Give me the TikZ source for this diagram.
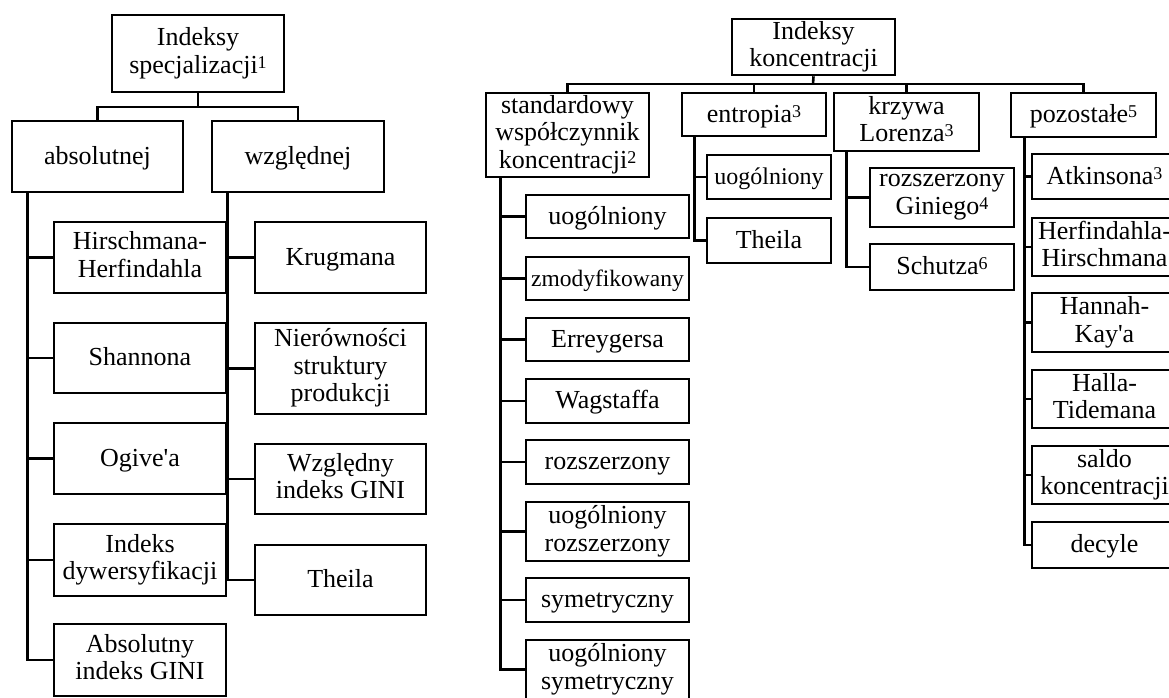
\documentclass[tikz,border=0pt]{standalone}
\usepackage{fontspec}
\setmainfont{Liberation Serif}
\usetikzlibrary{calc}

% small raised reference numbers
\newcommand\supnum[1]{\raisebox{5pt}{\fontsize{18}{18}\selectfont #1}}
% invisible struts that fix the ascent of the first line and the depth of the last
\newcommand\topstrut{\vrule height 21.25pt depth 0pt width 0pt}
\newcommand\botstrut{\vrule height 0pt depth 6.25pt width 0pt}
% box given by name, left, top, right, bottom, text
\newcommand\tbox[7][]{%
  \node[box,#1,minimum width={#5pt-#3pt},minimum height={#6pt-#4pt}] (#2)
    at ({(#3+#5)/2},{(#4+#6)/2}) {#7};}
\newcommand\apos{\textquotesingle}

\begin{document}
\begin{tikzpicture}[x=1pt,y=-1pt,
  box/.style={draw,line width=2.6pt,inner sep=0pt,align=center,
              font=\fontsize{26}{27.5}\selectfont,
              execute at begin node=\topstrut,
              execute at end node=\botstrut},
  smaller/.style={font=\fontsize{23.5}{27.5}\selectfont},
  small/.style={font=\fontsize{24}{27.5}\selectfont},
  link/.style={line width=2.6pt}]
\useasboundingbox (0,0) rectangle (1169,697);
\clip (0,0) rectangle (1169,697);

% ---------- specialisation indices ----------
\tbox{rootL}{112}{15}{284}{92}{Indeksy\\specjalizacji\supnum{1}}
\tbox{absn}{12}{121}{183}{192}{absolutnej}
\tbox{wzgl}{212}{121}{384}{192}{względnej}

\tbox{a1}{54}{222}{226}{293}{Hirschmana-\\Herfindahla}
\tbox{a2}{54}{323}{226}{393}{Shannona}
\tbox{a3}{54}{423}{226}{494}{Ogive\apos a}
\tbox{a4}{54}{524}{226}{596}{Indeks\\dywersyfikacji}
\tbox{a5}{54}{624}{226}{696}{Absolutny\\indeks GINI}

\tbox{w1}{255}{222}{426}{293}{Krugmana}
\tbox{w2}{255}{323}{426}{414}{Nierówności\\struktury\\produkcji}
\tbox{w3}{255}{444}{426}{514}{Względny\\indeks GINI}
\tbox{w4}{255}{545}{426}{615}{Theila}

\coordinate (barL) at (198,107);
\draw[link] (rootL.south) -- (barL);
\draw[link] (absn.north) |- (barL);
\draw[link] (wzgl.north) |- (barL);
\foreach \c in {a1,a2,a3,a4,a5}
  \draw[link] ([xshift=17pt]absn.south west) |- (\c.west);
\foreach \c in {w1,w2,w3,w4}
  \draw[link] ([xshift=17pt]wzgl.south west) |- (\c.west);

% ---------- concentration indices ----------
\tbox{rootR}{732}{19}{895}{75}{Indeksy\\koncentracji}
\tbox{s0}{486}{93}{649}{177}{standardowy\\współczynnik\\koncentracji\supnum{2}}
\tbox{e0}{682}{93}{826}{136}{entropia\supnum{3}}
\tbox{k0}{834}{93}{979}{151}{krzywa\\Lorenza\supnum{3}}
\tbox{p0}{1011}{93}{1156}{137}{pozostałe\supnum{5}}

\tbox{s1}{526}{195}{689}{238}{uogólniony}
\tbox[smaller]{s2}{526}{257}{689}{300}{zmodyfikowany}
\tbox{s3}{526}{318}{689}{361}{Erreygersa}
\tbox{s4}{526}{379}{689}{423}{Wagstaffa}
\tbox{s5}{526}{440}{689}{484}{rozszerzony}
\tbox{s6}{526}{502}{689}{561}{uogólniony\\rozszerzony}
\tbox{s7}{526}{578}{689}{622}{symetryczny}
\tbox{s8}{526}{640}{689}{699}{uogólniony\\symetryczny}

\tbox[small]{e1}{707}{155}{831}{199}{uogólniony}
\tbox{e2}{707}{218}{831}{263}{Theila}

\tbox{k1}{870}{168}{1014}{227}{rozszerzony\\Giniego\supnum{4}}
\tbox{k2}{870}{244}{1014}{290}{Schutza\supnum{6}}

\tbox{p1}{1032}{154}{1177}{199}{Atkinsona\supnum{3}}
\tbox{p2}{1032}{218}{1177}{276}{Herfindahla-\\Hirschmana}
\tbox{p3}{1032}{293}{1177}{352}{Hannah-\\Kay\apos a}
\tbox{p4}{1032}{370}{1177}{428}{Halla-\\Tidemana}
\tbox{p5}{1032}{446}{1177}{504}{saldo\\koncentracji}
\tbox{p6}{1032}{522}{1177}{568}{decyle}

\coordinate (barR) at (813,84);
\draw[link] (rootR.south) -- (barR);
\foreach \c in {s0,e0,k0,p0}
  \draw[link] (\c.north) |- (barR);
\foreach \c in {s1,s2,s3,s4,s5,s6,s7,s8}
  \draw[link] ([xshift=16pt]s0.south west) |- (\c.west);
\foreach \c in {e1,e2}
  \draw[link] ([xshift=14pt]e0.south west) |- (\c.west);
\foreach \c in {k1,k2}
  \draw[link] ([xshift=14pt]k0.south west) |- (\c.west);
\foreach \c in {p1,p2,p3,p4,p5,p6}
  \draw[link] ([xshift=15pt]p0.south west) |- (\c.west);
\end{tikzpicture}
\end{document}
